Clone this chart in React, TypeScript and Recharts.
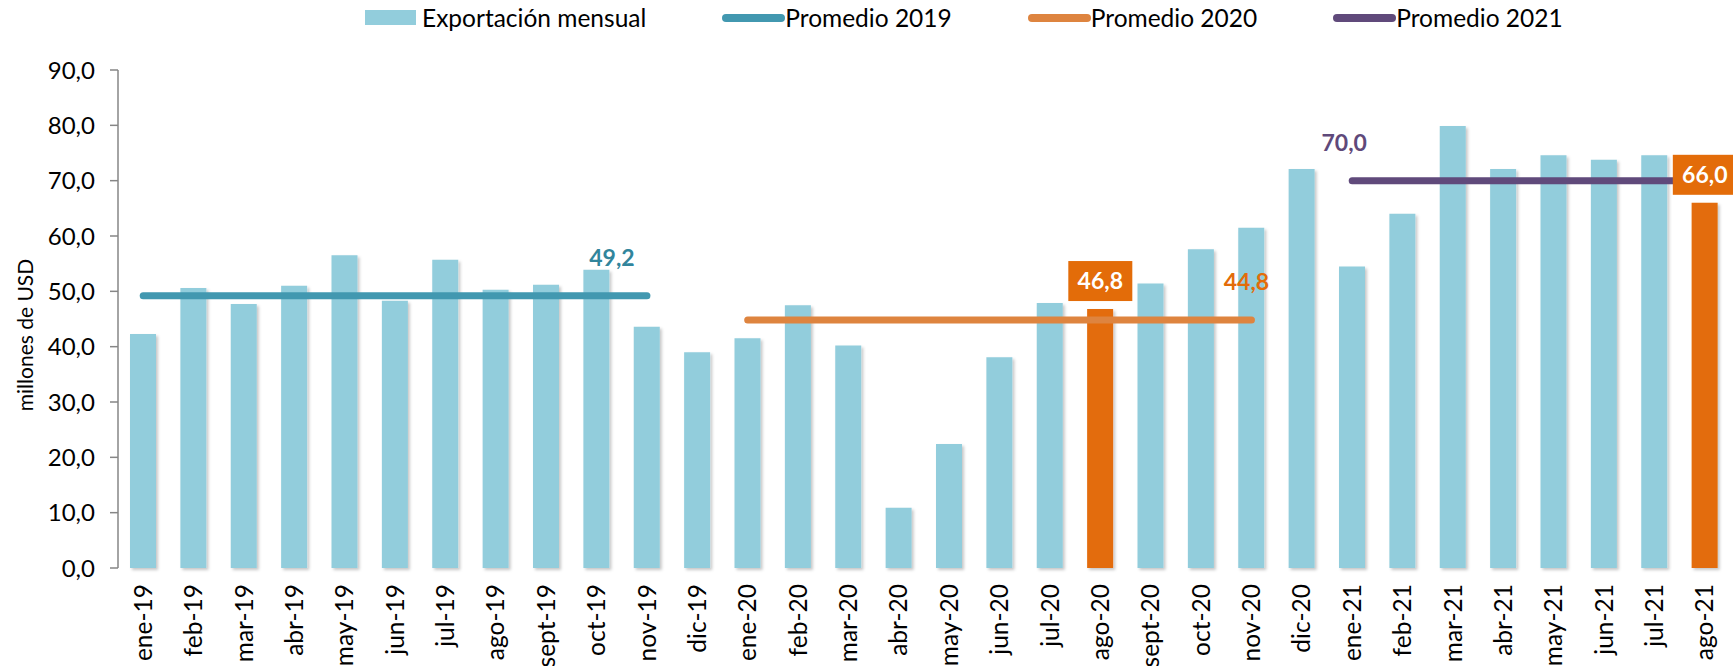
import { ComposedChart, Bar, Line, XAxis, YAxis, Legend, Cell, LabelList } from "recharts"

const meses = [
  "ene-19", "feb-19", "mar-19", "abr-19", "may-19", "jun-19", "jul-19", "ago-19", "sept-19", "oct-19", "nov-19", "dic-19",
  "ene-20", "feb-20", "mar-20", "abr-20", "may-20", "jun-20", "jul-20", "ago-20", "sept-20", "oct-20", "nov-20", "dic-20",
  "ene-21", "feb-21", "mar-21", "abr-21", "may-21", "jun-21", "jul-21", "ago-21",
]

const exportacion = [
  42.3, 50.6, 47.7, 51.0, 56.5, 48.3, 55.7, 50.3, 51.2, 53.9, 43.6, 39.0,
  41.5, 47.5, 40.2, 10.9, 22.4, 38.1, 47.9, 46.8, 51.4, 57.6, 61.5, 72.1,
  54.5, 64.0, 79.9, 72.1, 74.6, 73.8, 74.6, 66.0,
]

const destacados = ["ago-20", "ago-21"]

const promedios = [49.2, 44.8, 70.0]
const promedioDesde = ["ene-19", "ene-20", "ene-21"]
const promedioHasta = ["nov-19", "nov-20", "ago-21"]
// where each average label sits
const promedioEtiqueta = ["nov-19", "nov-20", "ene-21"]

const yTicks = [0, 10, 20, 30, 40, 50, 60, 70, 80, 90]

const FONT = "Lato, 'Open Sans', sans-serif"
const AZUL = "#92CDDC"
const NARANJA = "#E36C09"
const LINEAS = ["#4298B0", "#DE843F", "#604A7B"]
const TEXTOS = ["#31859C", "#E36C09", "#5F497A"]
const NOMBRES = ["Promedio 2019", "Promedio 2020", "Promedio 2021"]
const LABEL_DX = [-35, -5, -8]

const fmt = (v: number) => v.toFixed(1).replace(".", ",")

const data = meses.map((m, i) => {
  const row: any = { mes: m, exp: exportacion[i] }
  promedios.forEach((p, k) => {
    const a = meses.indexOf(promedioDesde[k])
    const b = meses.indexOf(promedioHasta[k])
    row["p" + k] = i >= a && i <= b ? p : null
  })
  return row
})

function XTick(props: any) {
  const { x, y, payload } = props
  return (
    <text
      x={x}
      y={y}
      transform={`rotate(-90, ${x}, ${y})`}
      textAnchor="end"
      dy="0.35em"
      fontSize={24.5}
      fontFamily={FONT}
      fill="#000"
    >
      {payload.value}
    </text>
  )
}

function promedioLabel(k: number) {
  return (props: any) => {
    const { x, y, index } = props
    if (meses[index] !== promedioEtiqueta[k]) return null
    return (
      <text
        x={x + LABEL_DX[k]}
        y={y - 30}
        textAnchor="middle"
        fontSize={23}
        fontWeight="bold"
        fontFamily={FONT}
        fill={TEXTOS[k]}
      >
        {fmt(promedios[k])}
      </text>
    )
  }
}

function boxLabel(props: any) {
  const { x, y, index, value } = props
  if (!destacados.includes(meses[index])) return null
  return (
    <g>
      <rect x={x - 32} y={y - 48} width={64} height={40} fill={NARANJA} />
      <text
        x={x}
        y={y - 20}
        textAnchor="middle"
        fontSize={23}
        fontWeight="bold"
        fontFamily={FONT}
        fill="#fff"
      >
        {fmt(value)}
      </text>
    </g>
  )
}

function LegendContent() {
  return (
    <div style={{ display: "flex", alignItems: "center", gap: 76, fontFamily: FONT, fontSize: 24.5, color: "#000" }}>
      <div style={{ display: "flex", alignItems: "center" }}>
        <span style={{ display: "inline-block", width: 51, height: 15, background: AZUL, marginRight: 6 }} />
        <span>Exportación mensual</span>
      </div>
      {NOMBRES.map((n, k) => (
        <div key={n} style={{ display: "flex", alignItems: "center" }}>
          <span style={{ display: "inline-block", width: 63, height: 8, borderRadius: 4, background: LINEAS[k] }} />
          <span>{n}</span>
        </div>
      ))}
    </div>
  )
}

export default function App() {
  return (
    <div style={{ position: "absolute", left: 0, top: 0, background: "#fff" }}>
      <ComposedChart width={1733} height={666} data={data} margin={{ top: 70, right: 3, left: 0, bottom: 0 }}>
        <defs>
          <filter id="sombra" x="-20%" y="-5%" width="150%" height="115%">
            <feDropShadow dx="2" dy="2" stdDeviation="1.5" floodColor="#000" floodOpacity="0.22" />
          </filter>
        </defs>
        <XAxis dataKey="mes" interval={0} axisLine={false} tickLine={false} tickSize={0} tickMargin={16} height={98} tick={<XTick />} />
        <YAxis
          domain={[0, 90]}
          ticks={yTicks}
          width={118}
          tickFormatter={fmt}
          axisLine={{ stroke: "#868686", strokeWidth: 1.5 }}
          tickLine={{ stroke: "#868686", strokeWidth: 1.5 }}
          tickSize={8}
          tickMargin={15}
          tick={{ fontSize: 24, fontFamily: FONT, fill: "#000" }}
          label={{
            content: () => (
              <text
                x={24}
                y={335}
                transform="rotate(-90, 24, 335)"
                textAnchor="middle"
                dominantBaseline="central"
                fontSize={21}
                fontFamily={FONT}
                fill="#000"
              >
                millones de USD
              </text>
            ),
          }}
        />
        <Legend verticalAlign="middle" align="center" wrapperStyle={{ top: 3, left: 365, width: 1360, height: 34 }} content={<LegendContent />} />
        <Bar dataKey="exp" name="Exportación mensual" barSize={26} isAnimationActive={false}>
          {meses.map((m) => (
            <Cell key={m} fill={destacados.includes(m) ? NARANJA : AZUL} filter="url(#sombra)" />
          ))}
        </Bar>
        {promedios.map((_, k) => (
          <Line
            key={k}
            type="linear"
            dataKey={"p" + k}
            name={NOMBRES[k]}
            stroke={LINEAS[k]}
            strokeWidth={7}
            strokeLinecap="round"
            dot={false}
            activeDot={false}
            isAnimationActive={false}
          >
            <LabelList dataKey={"p" + k} content={promedioLabel(k)} />
          </Line>
        ))}
        <Line dataKey="exp" stroke="none" dot={false} activeDot={false} legendType="none" isAnimationActive={false}>
          <LabelList dataKey="exp" content={boxLabel} />
        </Line>
      </ComposedChart>
    </div>
  )
}
